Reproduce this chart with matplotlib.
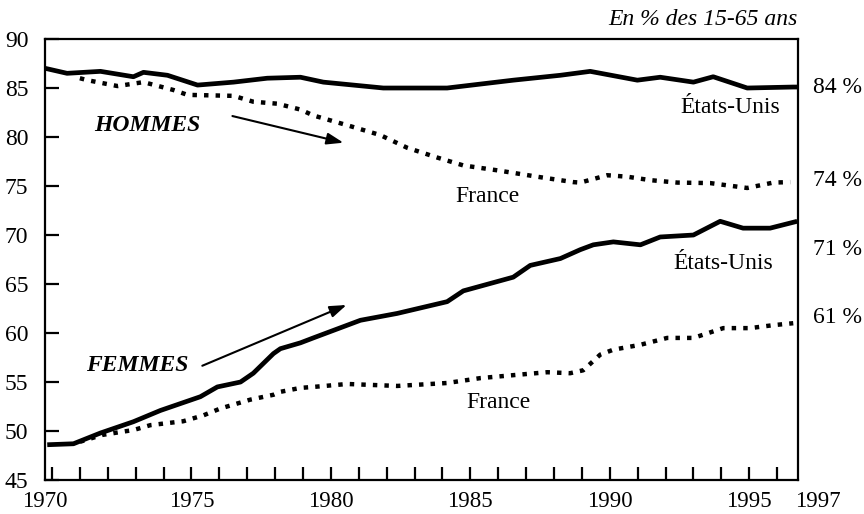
import matplotlib
matplotlib.use("Agg")
import matplotlib.pyplot as plt
from matplotlib.transforms import blended_transform_factory

plt.rcParams["font.family"] = ["Liberation Serif", "DejaVu Serif"]

# taux d'activite, en % des 15-65 ans
us_h_years = [1969.77, 1970.54, 1971.74, 1972.92, 1973.28, 1974.14, 1975.22, 1976.51,
              1977.72, 1978.91, 1979.73, 1981.88, 1984.17, 1986.54, 1988.23, 1989.30,
              1990.99, 1991.81, 1993.0, 1993.71, 1994.93, 1996.58, 1996.75]
us_h = [87.0, 86.5, 86.7, 86.15, 86.6, 86.3, 85.3, 85.6,
        86.0, 86.1, 85.6, 85.0, 85.0, 85.8, 86.3, 86.7,
        85.8, 86.1, 85.6, 86.15, 85.0, 85.1, 85.1]

fr_h_years = [1971.0, 1971.27, 1972.35, 1973.28, 1974.35, 1974.86, 1976.51, 1977.22,
              1978.08, 1978.91, 1979.37, 1980.59, 1981.77, 1982.74, 1983.82, 1984.75,
              1985.97, 1987.51, 1988.69, 1988.94, 1989.91, 1990.63, 1991.45, 1992.42,
              1993.6, 1994.93, 1995.86, 1996.47]
fr_h = [86.0, 85.8, 85.2, 85.6, 84.8, 84.3, 84.2, 83.6,
        83.4, 82.8, 82.2, 81.2, 80.2, 78.9, 77.9, 77.1,
        76.6, 75.9, 75.4, 75.35, 76.1, 75.95, 75.6, 75.35,
        75.3, 74.8, 75.35, 75.4]

us_f_years = [1969.83, 1970.77, 1971.74, 1972.92, 1973.89, 1975.32, 1975.93, 1976.76,
              1977.22, 1977.94, 1978.19, 1978.91, 1979.37, 1981.06, 1982.38, 1984.17,
              1984.75, 1986.54, 1987.15, 1988.23, 1988.94, 1989.41, 1990.13, 1991.1,
              1991.81, 1993.0, 1993.96, 1994.78, 1995.75, 1996.72]
us_f = [48.6, 48.7, 49.8, 50.95, 52.1, 53.5, 54.5, 55.0,
        55.9, 57.9, 58.4, 59.0, 59.5, 61.3, 62.0, 63.2,
        64.3, 65.7, 66.9, 67.6, 68.5, 69.0, 69.3, 69.0,
        69.8, 70.0, 71.4, 70.7, 70.7, 71.4]

fr_f_years = [1971.0, 1971.8, 1972.46, 1972.92, 1973.53, 1974.71, 1975.43, 1976.04,
              1977.11, 1977.94, 1978.19, 1978.91, 1979.37, 1980.59, 1982.38, 1984.17,
              1985.36, 1986.54, 1987.76, 1988.58, 1989.05, 1989.66, 1990.13, 1991.1,
              1992.06, 1993.0, 1994.07, 1995.03, 1995.86, 1996.58]
fr_f = [48.9, 49.6, 49.9, 50.1, 50.6, 51.0, 51.6, 52.3,
        53.2, 53.7, 54.0, 54.4, 54.5, 54.8, 54.6, 54.9,
        55.4, 55.7, 56.0, 55.9, 56.2, 57.8, 58.3, 58.8,
        59.5, 59.5, 60.5, 60.5, 60.8, 61.0]

year_labels = ["1970", "1975", "1980", "1985", "1990", "1995", "1997"]
year_label_x = [1969.75, 1975, 1980, 1985, 1990, 1995, 1997.45]

end_labels = ["84 %", "74 %", "71 %", "61 %"]
end_label_y = [85.1, 75.6, 68.5, 61.6]

FS = 17

fig = plt.figure(figsize=(8.64, 5.14), dpi=100)
ax = fig.add_axes([0.0521, 0.0661, 0.8715, 0.858])

solid = dict(color="black", lw=3.4, solid_capstyle="butt", solid_joinstyle="round")
dotted = dict(color="black", lw=3.2, linestyle=(0, (1.0, 1.6)))

ax.plot(us_h_years, us_h, **solid)
ax.plot(fr_h_years, fr_h, **dotted)
ax.plot(us_f_years, us_f, **solid)
ax.plot(fr_f_years, fr_f, **dotted)

for s in ax.spines.values():
    s.set_linewidth(1.6)

ax.set_yticks(range(45, 91, 5))
ax.tick_params(axis="y", direction="in", length=10, width=1.6, pad=12, labelsize=FS)

# annees : petites graduations tous les ans, etiquettes posees a part
ax.set_xticks(range(1970, 1997), minor=True)
ax.set_xticks([])
ax.tick_params(axis="x", which="minor", direction="in", length=9.5, width=1.6)

ax.set_xlim(1969.75, 1996.75)
ax.set_ylim(45, 90)

xtr = blended_transform_factory(ax.transData, fig.transFigure)
for lab, x in zip(year_labels, year_label_x):
    ax.text(x, 0.003, lab, transform=xtr, ha="center", va="bottom", fontsize=16.5,
            clip_on=False)

ax.text(1.0, 1.02, "En % des 15-65 ans", transform=ax.transAxes, ha="right",
        va="bottom", fontsize=FS, style="italic")

for lab, y in zip(end_labels, end_label_y):
    ax.text(1997.3, y, lab, ha="left", va="center", fontsize=FS, clip_on=False)

ax.text(1994.32, 83.06, "États-Unis", ha="center", va="center", fontsize=FS)
ax.text(1985.61, 73.88, "France", ha="center", va="center", fontsize=FS)
ax.text(1994.07, 67.14, "États-Unis", ha="center", va="center", fontsize=FS)
ax.text(1986.0, 52.96, "France", ha="center", va="center", fontsize=FS)

ax.text(1973.42, 81.2, "HOMMES", ha="center", va="center", fontsize=FS,
        weight="bold", style="italic")
ax.text(1973.06, 56.73, "FEMMES", ha="center", va="center", fontsize=FS,
        weight="bold", style="italic")

arrow = dict(arrowstyle="-|>,head_length=1.0,head_width=0.35", color="black", lw=1.5,
             shrinkA=0, shrinkB=0)
ax.annotate("", xy=(1980.45, 79.42), xytext=(1976.47, 82.14), arrowprops=arrow)
ax.annotate("", xy=(1980.56, 62.86), xytext=(1975.39, 56.66), arrowprops=arrow)

fig.savefig("out.png", dpi=100)
